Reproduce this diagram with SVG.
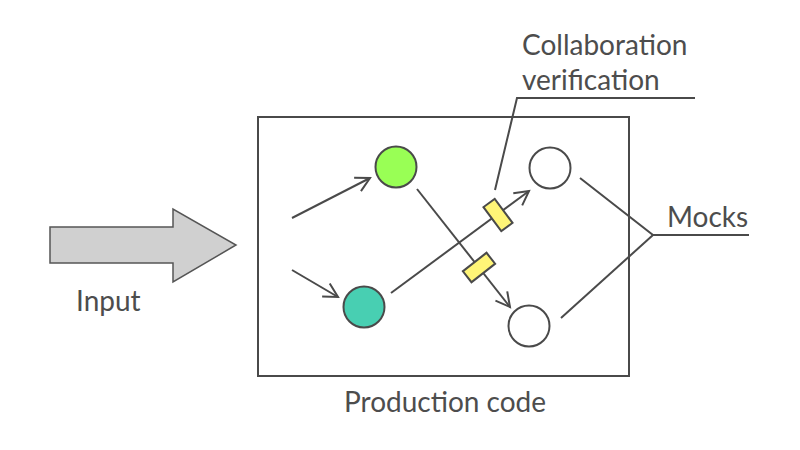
<svg xmlns="http://www.w3.org/2000/svg" width="800" height="450" viewBox="0 0 800 450">
<style>
.ln{fill:none;stroke:#4a4a4a;stroke-width:2;}
.nd{stroke:#4a4a4a;stroke-width:2;}
.tx{font-family:Lato,"Liberation Sans",sans-serif;font-size:28px;fill:#4d4d4d;}
</style>
<defs>
<marker id="arr" markerUnits="userSpaceOnUse" markerWidth="20" markerHeight="20" viewBox="-16 -10 20 20" refX="0" refY="0" orient="auto">
<path d="M-14,-7.5 L0,0 L-14,7.5" fill="none" stroke="#4a4a4a" stroke-width="2"/>
</marker>
</defs>
<rect width="800" height="450" fill="#ffffff"/>
<g id="input">
<polygon points="50,227 173,227 173,209 236,245 173,282 173,263 50,263" fill="#d0d0d0" stroke="#555" stroke-width="1.5"/>
<text class="tx" x="76" y="311">Input</text>
</g>
<g id="production">
<rect x="258" y="117" width="371" height="259" class="ln"/>
<text class="tx" x="344" y="412">Production code</text>
</g>
<g id="connectors">
<line class="ln" x1="292" y1="218" x2="370" y2="178" marker-end="url(#arr)"/>
<line class="ln" x1="292" y1="270" x2="338" y2="297" marker-end="url(#arr)"/>
<line class="ln" x1="391" y1="293" x2="529" y2="191" marker-end="url(#arr)"/>
<line class="ln" x1="417" y1="189" x2="510" y2="307" marker-end="url(#arr)"/>
<polyline class="ln" points="495,190 517,98 695,98"/>
<polyline class="ln" points="580,178 653,235 749,235"/>
<line class="ln" x1="561" y1="318" x2="653" y2="235"/>
</g>
<g id="green"><circle cx="396" cy="167" r="20.5" fill="#99ff55" class="nd"/></g>
<g id="teal"><circle cx="364" cy="307" r="20.5" fill="#48cfb2" class="nd"/></g>
<g id="mock1"><circle cx="550" cy="168" r="20.5" fill="#ffffff" class="nd"/></g>
<g id="mock2"><circle cx="529" cy="326" r="20.5" fill="#ffffff" class="nd"/></g>
<g id="verify1"><rect x="-15" y="-7" width="30" height="14" fill="#fff577" class="nd" transform="translate(498,215) rotate(53.5)"/></g>
<g id="verify2"><rect x="-15" y="-7" width="30" height="14" fill="#fff577" class="nd" transform="translate(479,267.5) rotate(-38)"/></g>
<g id="labels">
<text class="tx" x="522" y="55">Collaboration</text>
<text class="tx" x="522" y="90">verification</text>
<text class="tx" x="667" y="227">Mocks</text>
</g>
</svg>
